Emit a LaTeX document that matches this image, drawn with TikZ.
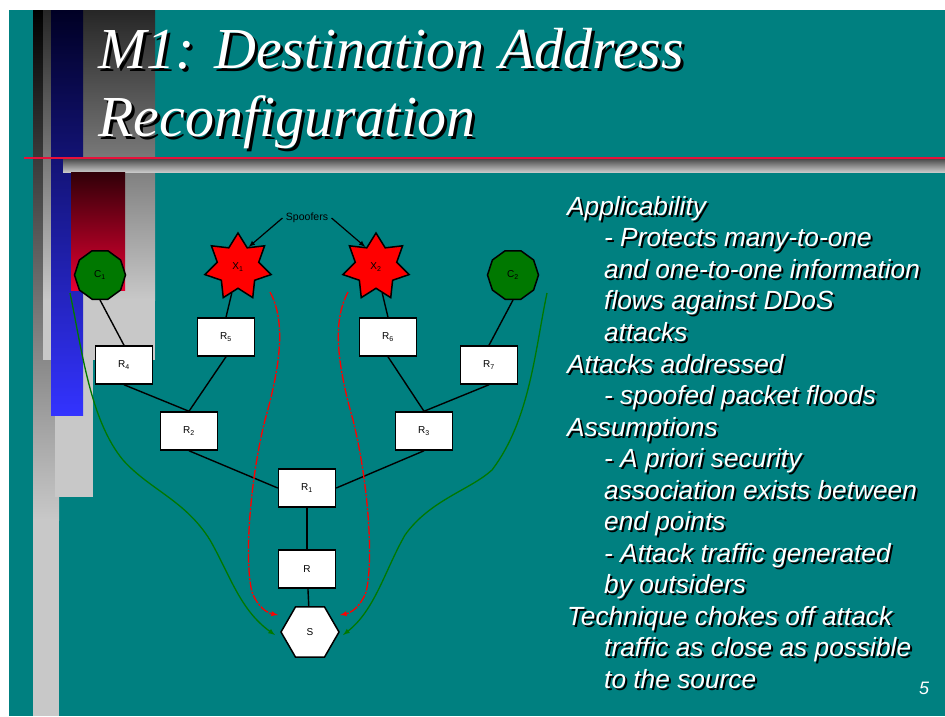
\documentclass[tikz,border=0pt]{standalone}
\usepackage{fontspec}
\setmainfont{Liberation Serif}
\setsansfont{Liberation Sans}
\usetikzlibrary{shapes.geometric,positioning}

\definecolor{slideteal}{RGB}{0,128,128}
\definecolor{crimsonline}{RGB}{232,16,58}
\definecolor{lightbar}{RGB}{200,200,200}
\definecolor{navybar}{RGB}{0,0,36}
\definecolor{bluebar}{RGB}{51,51,255}
\definecolor{darkred}{RGB}{48,0,8}
\definecolor{brightred}{RGB}{232,0,50}
\definecolor{pathgreen}{RGB}{0,120,0}

% text with a drop shadow
\newcommand{\shd}[2][2pt]{\leavevmode\rlap{\kern#1\raisebox{-#1}{\color{black}#2}}#2}
\newcommand{\ind}{\hspace*{37pt}}

\tikzset{
  rbox/.style={draw, fill=white, line width=1.5pt, minimum width=57pt,
    minimum height=38pt, inner sep=0pt, font=\fontsize{10}{12}\sffamily},
  client/.style={regular polygon, regular polygon sides=10, draw, fill=pathgreen,
    line width=1.5pt, minimum size=51pt, inner sep=0pt, font=\fontsize{10}{12}\sffamily},
  spoofer/.style={star, star points=7, star point ratio=1.6, draw, fill=red,
    line width=1.5pt, minimum size=68pt, inner sep=0pt, font=\fontsize{10}{12}\sffamily},
  server/.style={regular polygon, regular polygon sides=6, draw, fill=white,
    line width=1.5pt, minimum size=58pt, inner sep=0pt, font=\fontsize{10}{12}\sffamily},
  link/.style={line width=1.4pt},
  attackflow/.style={red, line width=1.3pt, dash pattern=on 9pt off 1.5pt on 2pt off 1.5pt, -latex},
  goodflow/.style={pathgreen, line width=1.3pt, -latex}
}

\begin{document}
\begin{tikzpicture}[x=1pt, y=-1pt]
  \useasboundingbox (0,0) rectangle (945,716);
  \fill[white] (0,0) rectangle (945,716);
  \fill[slideteal] (9,10) rectangle (945,716);

  % side bars
  \shade[top color=black, bottom color=lightbar] (33,10) rectangle (59,520);
  \fill[lightbar] (33,519) rectangle (59,716);
  \shade[top color=black!85, bottom color=lightbar] (43,10) rectangle (155,300);
  \fill[lightbar] (43,299) rectangle (155,360);
  \fill[lightbar] (55,360) rectangle (93,497);
  \shade[top color=navybar, bottom color=bluebar] (51,10) rectangle (83,415);
  \shade[top color=black!70, bottom color=lightbar] (63,159) rectangle (945,172);
  \draw[crimsonline, line width=2.5pt] (24,158) -- (945,158);
  \shade[top color=darkred, bottom color=brightred] (71,172) rectangle (125,290);

  \node[anchor=north west, align=left, text=white, inner sep=0pt,
    font=\fontsize{58}{68}\selectfont\itshape] (title) at (98,28)
    {\shd[3pt]{M1: Destination Address}\\\shd[3pt]{Reconfiguration}};

  % network
  \node[client] (c1) at (100,275) {C\textsubscript{1}};
  \node[client] (c2) at (513,275) {C\textsubscript{2}};
  \node[spoofer] (x1) at (238,267) {X\textsubscript{1}};
  \node[spoofer] (x2) at (376,267) {X\textsubscript{2}};
  \node[font=\fontsize{10.5}{12}\sffamily] (spoof) at (307,218) {Spoofers};

  \node[rbox] (r5) at (226,337) {R\textsubscript{5}};
  \node[rbox] (r6) at (388,337) {R\textsubscript{6}};
  \node[rbox] (r4) at (124,365) {R\textsubscript{4}};
  \node[rbox] (r7) at (489,365) {R\textsubscript{7}};
  \node[rbox] (r2) at (189,431) {R\textsubscript{2}};
  \node[rbox, right of=r2, node distance=235pt] (r3) {R\textsubscript{3}};
  \node[rbox] (r1) at (307,488) {R\textsubscript{1}};
  \node[rbox, below of=r1, node distance=81pt] (r) {R};
  \node[server, below of=r, node distance=63pt, xshift=3pt] (s) {S};

  \draw[link] (c1.south) -- (r4.north);
  \draw[link] (x1) -- (r5.north);
  \draw[link] (x2) -- (r6.north);
  \draw[link] (c2.south) -- (r7.north);
  \draw[link] (r4.south) -- (r2.north);
  \draw[link] (r5.south) -- (r2.north);
  \draw[link] (r6.south) -- (r3.north);
  \draw[link] (r7.south) -- (r3.north);
  \draw[link] (r2.south) -- (r1.west);
  \draw[link] (r3.south) -- (r1.east);
  \draw[link] (r1) -- (r);
  \draw[link] (r) -- (s);

  \draw[-latex, line width=1.2pt] (spoof.west) -- (x1.62);
  \draw[-latex, line width=1.2pt] (spoof.east) -- (x2.118);

  % traffic towards the server
  \coordinate (atk1) at (270,292);
  \coordinate (atk2) at (348,292);
  \coordinate (cl1) at (70,293);
  \coordinate (cl2) at (547,293);
  \coordinate (hit1) at (278,615);
  \coordinate (hit2) at (340,615);
  \coordinate (ok1) at (275,635);
  \coordinate (ok2) at (343,635);

  \draw[attackflow] (atk1) .. controls (285,320) and (282,360) .. (265,420)
    .. controls (250,480) and (244,560) .. (252,592)
    .. controls (258,608) and (268,613) .. (hit1);
  \draw[attackflow] (atk2) .. controls (333,320) and (336,360) .. (353,420)
    .. controls (368,480) and (374,560) .. (366,592)
    .. controls (360,608) and (350,613) .. (hit2);
  \draw[goodflow] (cl1) .. controls (82,350) and (90,420) .. (123,460)
    .. controls (150,490) and (185,500) .. (210,540)
    .. controls (230,575) and (240,610) .. (ok1);
  \draw[goodflow] (cl2) .. controls (535,350) and (530,420) .. (492,470)
    .. controls (470,490) and (430,500) .. (405,535)
    .. controls (385,570) and (375,610) .. (ok2);

  % bullet text
  \node[anchor=north west, align=left, text=white, inner sep=0pt,
    font=\fontsize{26.3}{31.55}\selectfont\sffamily\itshape] (notes) at (567,196)
    {\shd{Applicability}\\
     \ind\shd{- Protects many-to-one}\\
     \ind\shd{and one-to-one information}\\
     \ind\shd{flows against DDoS}\\
     \ind\shd{attacks}\\
     \shd{Attacks addressed}\\
     \ind\shd{- spoofed packet floods}\\
     \shd{Assumptions}\\
     \ind\shd{- A priori security}\\
     \ind\shd{association exists between}\\
     \ind\shd{end points}\\
     \ind\shd{- Attack traffic generated}\\
     \ind\shd{by outsiders}\\
     \shd{Technique chokes off attack}\\
     \ind\shd{traffic as close as possible}\\
     \ind\shd{to the source}};
  \node[anchor=base west, text=white, inner sep=0pt,
    font=\fontsize{18}{20}\sffamily\itshape] (page) at (919,694) {5};
\end{tikzpicture}
\end{document}
